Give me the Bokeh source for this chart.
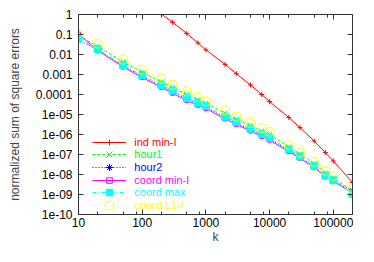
from bokeh.plotting import figure
from bokeh.models import FixedTicker, LogAxis, Legend, LegendItem
from bokeh.embed import file_html
from bokeh.resources import INLINE

# ---- data ----
k = [10, 20, 50, 100, 200, 300, 500, 750, 1000, 2000, 3000, 5000, 7500,
     10000, 20000, 30000, 50000, 75000, 100000, 200000]
k_ind = [200, 300, 500, 750, 1000, 2000, 3000, 5000, 7500,
         10000, 20000, 30000, 50000, 75000, 100000, 200000]
ind_min_I = [1.05, 0.41, 0.114, 0.038, 0.017, 0.0032, 0.0011, 3.0e-4, 1.0e-4,
             4.4e-5, 7.1e-6, 2.2e-6, 4.7e-7, 1.25e-7, 4.7e-8, 4.0e-9]
hour1 = [0.085, 0.026, 0.0042, 0.0013, 4.3e-4, 2.2e-4, 1.0e-4, 5.5e-5, 3.6e-5,
         1.15e-5, 6.0e-6, 2.8e-6, 1.5e-6, 1.0e-6, 2.4e-7, 1.05e-7, 3.5e-8,
         1.2e-8, 6.5e-9, 1.5e-9]
hour2 = [0.055, 0.017, 0.0027, 8.0e-4, 2.6e-4, 1.4e-4, 6.0e-5, 3.4e-5, 2.3e-5,
         7.0e-6, 3.8e-6, 1.7e-6, 9.5e-7, 6.0e-7, 1.6e-7, 7.5e-8, 2.5e-8,
         8.5e-9, 5.0e-9, 1.5e-9]
coord_min_I = [0.105, 0.016, 0.0024, 7.0e-4, 2.3e-4, 1.15e-4, 5.0e-5, 2.9e-5,
               2.0e-5, 6.0e-6, 3.2e-6, 1.5e-6, 8.0e-7, 5.2e-7, 1.4e-7, 6.5e-8,
               2.2e-8, 8.0e-9, 4.5e-9, 1.2e-9]
coord_max = [0.061, 0.019, 0.003, 9.1e-4, 3.0e-4, 1.58e-4, 6.6e-5, 3.9e-5,
             2.7e-5, 7.8e-6, 4.3e-6, 1.95e-6, 1.05e-6, 6.8e-7, 1.8e-7, 8.1e-8,
             2.7e-8, 9.0e-9, 5.2e-9, 1.07e-9]
coord_L1_I = [0.11, 0.035, 0.0056, 0.0017, 6.3e-4, 3.0e-4, 1.45e-4, 7.5e-5,
              4.5e-5, 1.6e-5, 7.8e-6, 3.8e-6, 2.1e-6, 1.4e-6, 2.9e-7, 1.25e-7,
              4.2e-8, 1.55e-8, 8.3e-9, 1.9e-9]

x_ticks = [10, 100, 1000, 10000, 100000]
x_tick_labels = ["10", "100", "1000", "10000", "100000"]
x_minor = [20, 50, 80, 200, 500, 800, 2000, 5000, 8000, 20000, 50000, 80000]
y_ticks = [1e-10, 1e-09, 1e-08, 1e-07, 1e-06, 1e-05, 0.0001, 0.001, 0.01, 0.1, 1]
y_tick_labels = ["1e-10", "1e-09", "1e-08", "1e-07", "1e-06", "1e-05",
                 "0.0001", "0.001", "0.01", "0.1", "1"]

FONT = "Liberation Sans"
AX = "#333333"

p = figure(width=358, height=246, x_axis_type="log", y_axis_type="log",
           x_range=(10, 200000), y_range=(1e-10, 1),
           output_backend="svg", toolbar_location=None,
           min_border_left=78, min_border_right=6,
           min_border_top=14, min_border_bottom=30)
p.xgrid.visible = False
p.ygrid.visible = False
p.outline_line_color = AX
p.background_fill_color = "white"
p.border_fill_color = "white"


def style_axis(ax, ticker, labels=None, show=True):
    ax.ticker = ticker
    ax.axis_line_color = AX
    ax.major_tick_line_color = AX
    ax.minor_tick_line_color = AX
    ax.major_tick_in = 5
    ax.major_tick_out = 0
    ax.minor_tick_in = 3
    ax.minor_tick_out = 0
    if show:
        ax.major_label_text_font = FONT
        ax.major_label_text_font_size = "12px"
        ax.major_label_text_color = "black"
        if labels is not None:
            ax.major_label_overrides = labels
    else:
        ax.major_label_text_color = None
        ax.major_label_text_font_size = "1px"
        ax.major_label_standoff = 0


xt = FixedTicker(ticks=x_ticks, minor_ticks=x_minor)
yt = FixedTicker(ticks=y_ticks, minor_ticks=[])
xlab = {t: s for t, s in zip(x_ticks, x_tick_labels)}
ylab = {t: s for t, s in zip(y_ticks, y_tick_labels)}

xa = p.xaxis[0]
style_axis(xa, xt, xlab)
xa.major_label_standoff = 3
xa.axis_label = "k"
xa.axis_label_text_font = FONT
xa.axis_label_text_font_size = "12px"
xa.axis_label_text_font_style = "normal"
xa.axis_label_standoff = 0

ya = p.yaxis[0]
style_axis(ya, yt, ylab)
ya.major_label_standoff = 6
ya.axis_label = "normalized sum of square errors"
ya.axis_label_text_font = FONT
ya.axis_label_text_font_size = "12px"
ya.axis_label_text_font_style = "normal"
ya.axis_label_standoff = 11

top = LogAxis()
style_axis(top, FixedTicker(ticks=x_ticks, minor_ticks=x_minor), show=False)
p.add_layout(top, "above")
right = LogAxis()
style_axis(right, FixedTicker(ticks=y_ticks, minor_ticks=[]), show=False)
p.add_layout(right, "right")

series = [
    ("ind min-I", k_ind, ind_min_I, "#ff0000", None, "cross", 5, True, 14, 72.25),
    ("hour1", k, hour1, "#00ff00", "3 2", "x", 7, True, 20, 59.6),
    ("hour2", k, hour2, "#0000ff", "1 2", "asterisk", 7, True, 18, 46.95),
    ("coord min-I", k, coord_min_I, "#ff00ff", None, "square", 4, False, 14, 34.3),
    ("coord max", k, coord_max, "#00ffff", "4 2 1 2", "square", 7, True, 16, 21.65),
    ("coord L1-I", k, coord_L1_I, "#ffff00", "1 2", "circle", 9, False, 22, 9.0),
]

for label, xs, ys, col, dash, marker, size, filled, gh, cy in series:
    kw = {} if dash is None else {"line_dash": dash}
    lr = p.line(xs, ys, line_color=col, line_width=1, **kw)
    if marker == "square" and filled:
        sr = p.scatter(xs, ys, marker=marker, size=size, fill_color=col, line_color=col)
    elif marker in ("square", "circle"):
        sr = p.scatter(xs, ys, marker=marker, size=size, fill_color=None,
                       line_color=col, line_width=1)
    else:
        sr = p.scatter(xs, ys, marker=marker, size=size, line_color=col, line_width=1)
    leg = Legend(items=[LegendItem(label=label, renderers=[lr, sr])],
                 location=(14.3, cy - gh / 2.0),
                 glyph_width=34, glyph_height=gh, label_height=gh,
                 label_standoff=8, padding=0, margin=0, spacing=0,
                 border_line_color=None, background_fill_alpha=0,
                 label_text_font=FONT, label_text_font_size="11px",
                 label_text_color=col, label_text_baseline="middle")
    p.add_layout(leg)

open("out.html", "w").write(file_html(p, INLINE))
